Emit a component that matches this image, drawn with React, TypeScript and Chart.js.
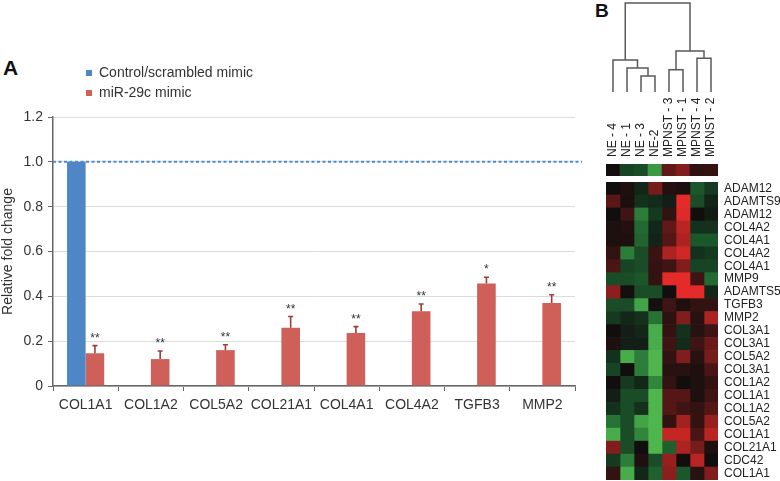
import React, { useEffect, useRef } from "react";
import { Chart, registerables } from "chart.js";
Chart.register(...registerables);

const FONT = "'Liberation Sans', Arial, Helvetica, sans-serif";
Chart.defaults.font.family = FONT;

// ---------- Panel A data ----------
const genes = ["COL1A1", "COL1A2", "COL5A2", "COL21A1", "COL4A1", "COL4A2", "TGFB3", "MMP2"];
const controlLabel = "Control/scrambled mimic";
const mimicLabel = "miR-29c mimic";
const controlValues = [1, null, null, null, null, null, null, null];
const mimicValues = [0.146, 0.12, 0.16, 0.26, 0.236, 0.333, 0.457, 0.37];
const mimicErrors = [0.034, 0.036, 0.024, 0.05, 0.029, 0.033, 0.028, 0.037];
const significance = ["**", "**", "**", "**", "**", "**", "*", "**"];
const yMax = 1.2;
const yStep = 0.2;
const referenceLevel = 1;

// ---------- Panel B data ----------
const samples = ["NE - 4", "NE - 1", "NE - 3", "NE-2", "MPNST - 3", "MPNST - 1", "MPNST - 4", "MPNST - 2"];
const groupRow = [0.0, -0.25, -0.3, -0.7, 0.35, 0.5, 0.12, 0.15];
const heatGenes = [
  "ADAM12", "ADAMTS9", "ADAM12", "COL4A2", "COL4A1", "COL4A2", "COL4A1", "MMP9", "ADAMTS5", "TGFB3",
  "MMP2", "COL3A1", "COL3A1", "COL5A2", "COL3A1", "COL1A2", "COL1A1", "COL1A2", "COL5A2", "COL1A1",
  "COL21A1", "CDC42", "COL1A1",
];
const heatValues = [
  [0.0, 0.05, -0.1, 0.45, 0.08, 0.04, -0.35, -0.2],
  [0.32, 0.04, -0.15, -0.12, -0.05, 0.95, -0.3, -0.08],
  [0.0, 0.2, -0.55, -0.2, 0.15, 0.92, 0.0, -0.04],
  [0.05, 0.08, -0.45, -0.1, 0.35, 0.75, -0.15, -0.15],
  [0.05, 0.06, -0.42, -0.08, 0.3, 0.7, -0.35, -0.35],
  [0.15, -0.55, -0.3, 0.18, 0.7, 0.85, -0.15, -0.2],
  [0.25, -0.25, -0.3, 0.15, 0.2, 0.5, -0.25, -0.25],
  [-0.3, -0.3, -0.35, 0.15, 0.95, 0.95, 0.2, -0.45],
  [0.55, 0.02, -0.3, -0.3, 0.0, 0.95, 0.95, -0.1],
  [-0.3, -0.3, -0.75, 0.02, 0.2, 0.05, 0.15, 0.15],
  [-0.2, -0.1, -0.15, -0.5, 0.12, 0.5, 0.1, 0.7],
  [0.0, -0.05, -0.1, -0.8, 0.15, -0.15, 0.1, 0.2],
  [0.05, -0.05, -0.05, -0.8, 0.2, -0.12, 0.2, 0.4],
  [-0.15, -0.8, -0.55, -0.85, 0.15, 0.5, 0.1, 0.45],
  [-0.25, 0.0, -0.55, -0.85, 0.1, 0.1, 0.05, 0.25],
  [0.0, -0.2, -0.1, -0.6, 0.15, 0.0, 0.05, 0.15],
  [-0.05, -0.3, -0.3, -0.85, 0.3, 0.3, 0.05, 0.2],
  [-0.15, -0.3, -0.15, -0.85, 0.3, 0.2, 0.15, 0.3],
  [-0.5, -0.3, -0.75, -0.85, 0.15, 0.65, 0.15, 0.6],
  [-0.8, -0.3, -0.6, -0.85, 0.8, 0.8, 0.25, 0.75],
  [0.5, -0.3, 0.0, -0.85, -0.4, 0.7, 0.45, 0.05],
  [-0.2, -0.55, 0.05, -0.3, 0.6, 0.0, 0.75, 0.0],
  [0.15, -0.8, -0.1, -0.4, 0.55, -0.35, 0.1, 0.5],
];
// dendrogram merges: [childA, childB, height]; leaves 0..7, clusters 8..
const merges = [
  [2, 3, 0.18],
  [1, 8, 0.27],
  [0, 9, 0.36],
  [4, 5, 0.25],
  [6, 7, 0.38],
  [11, 12, 0.46],
  [10, 13, 1.0],
];

function heatColor(v: number): string {
  if (v >= 0) {
    const r = Math.round(18 + 222 * v);
    const g = Math.round(14 + 30 * v);
    const b = Math.round(14 + 28 * v);
    return `rgb(${r},${g},${b})`;
  }
  const a = -v;
  const r = Math.round(18 + 85 * a * a);
  const g = Math.round(20 + 190 * a);
  const b = Math.round(18 + 70 * a);
  return `rgb(${r},${g},${b})`;
}

const BLUE = "#4f86c6";
const RED = "#ce5f59";

const annotatePlugin = {
  id: "annotateA",
  afterDatasetsDraw(chart: any) {
    const ctx = chart.ctx;
    const y = chart.scales.y;
    const area = chart.chartArea;
    ctx.save();
    const yr = y.getPixelForValue(referenceLevel);
    ctx.strokeStyle = "#4a8bd6";
    ctx.lineWidth = 2;
    ctx.setLineDash([3, 2.5]);
    ctx.beginPath();
    ctx.moveTo(area.left, yr);
    ctx.lineTo(area.right + 7, yr);
    ctx.stroke();
    ctx.setLineDash([]);
    const meta = chart.getDatasetMeta(1);
    meta.data.forEach((bar: any, i: number) => {
      const top = y.getPixelForValue(mimicValues[i] + mimicErrors[i]);
      ctx.strokeStyle = "#9e3c38";
      ctx.lineWidth = 1.6;
      ctx.beginPath();
      ctx.moveTo(bar.x, bar.y);
      ctx.lineTo(bar.x, top);
      ctx.moveTo(bar.x - 2.5, top);
      ctx.lineTo(bar.x + 2.5, top);
      ctx.stroke();
      ctx.fillStyle = "#333";
      ctx.font = `12px ${FONT}`;
      ctx.textAlign = "center";
      ctx.textBaseline = "alphabetic";
      ctx.fillText(significance[i], bar.x, top - 4);
    });
    ctx.restore();
  },
};

function useChart(ref: React.RefObject<HTMLCanvasElement>, makeConfig: () => any) {
  useEffect(() => {
    if (!ref.current) return;
    const chart = new Chart(ref.current, makeConfig());
    return () => chart.destroy();
  }, []);
}

function Canvas({ r, left, top, width, height }: any) {
  return (
    <canvas
      ref={r}
      width={width}
      height={height}
      style={{ position: "absolute", left, top, width, height, display: "block" }}
    />
  );
}

export default function App() {
  const aRef = useRef<HTMLCanvasElement>(null);
  const legRef = useRef<HTMLCanvasElement>(null);
  const dendRef = useRef<HTMLCanvasElement>(null);
  const barRef = useRef<HTMLCanvasElement>(null);
  const heatRef = useRef<HTMLCanvasElement>(null);

  useChart(aRef, () => ({
    type: "bar",
    data: {
      labels: genes,
      datasets: [
        { label: controlLabel, data: controlValues, backgroundColor: BLUE },
        { label: mimicLabel, data: mimicValues, backgroundColor: RED },
      ],
    },
    options: {
      animation: false,
      responsive: false,
      layout: { padding: { left: 0, top: 117, right: 15, bottom: 0 } },
      datasets: { bar: { categoryPercentage: 0.57, barPercentage: 1 } },
      plugins: { legend: { display: false }, tooltip: { enabled: false } },
      scales: {
        x: {
          grid: { display: true, drawOnChartArea: false, drawTicks: true, tickLength: 5, tickColor: "#666", offset: true },
          border: { color: "#666", width: 1.5 },
          ticks: { color: "#333", font: { size: 14 }, padding: 5.5, maxRotation: 0, autoSkip: false },
          afterFit: (s: any) => { s.height = 95; },
        },
        y: {
          min: 0,
          max: yMax,
          ticks: { stepSize: yStep, color: "#333", font: { size: 14 }, padding: 5 },
          grid: { color: "#dcdcdc", tickColor: "#666", tickLength: 5 },
          border: { color: "#666", width: 1.5 },
          title: { display: true, text: "Relative fold change", color: "#333", font: { size: 14 }, padding: 0 },
          afterFit: (s: any) => { s.width = 53; },
        },
      },
    },
    plugins: [annotatePlugin],
  }));

  useChart(legRef, () => ({
    type: "bar",
    data: {
      labels: [],
      datasets: [
        { label: controlLabel, data: [], backgroundColor: BLUE },
        { label: mimicLabel, data: [], backgroundColor: RED },
      ],
    },
    options: {
      animation: false,
      responsive: false,
      layout: { padding: 0 },
      scales: { x: { display: false }, y: { display: false } },
      plugins: {
        tooltip: { enabled: false },
        legend: {
          display: true,
          position: "top",
          align: "start",
          labels: { boxWidth: 6, boxHeight: 6, padding: 6, color: "#333", font: { size: 14 } },
        },
      },
    },
  }));

  useChart(dendRef, () => {
    const nodeX: number[] = samples.map((_, i) => i);
    const nodeH: number[] = samples.map(() => 0);
    const datasets = merges.map(([a, b, h]) => {
      const xa = nodeX[a], xb = nodeX[b];
      nodeX.push((xa + xb) / 2);
      nodeH.push(h);
      return {
        data: [
          { x: xa, y: nodeH[a] },
          { x: xa, y: h },
          { x: xb, y: h },
          { x: xb, y: nodeH[b] },
        ],
        showLine: true,
        borderColor: "#5a5a5a",
        borderWidth: 1.5,
        pointRadius: 0,
        fill: false,
        clip: false,
      };
    });
    return {
      type: "scatter",
      data: { datasets },
      options: {
        animation: false,
        responsive: false,
        layout: { padding: { left: 13, right: 19, top: 3, bottom: 4 } },
        plugins: { legend: { display: false }, tooltip: { enabled: false } },
        scales: {
          x: { type: "linear", min: 0, max: samples.length - 1, display: false },
          y: { type: "linear", min: 0, max: 1, display: false },
        },
      },
    };
  });

  useChart(barRef, () => ({
    type: "bar",
    data: {
      labels: samples,
      datasets: [
        {
          data: samples.map(() => 1),
          backgroundColor: groupRow.map(heatColor),
          barPercentage: 1,
          categoryPercentage: 1,
          borderWidth: 0,
        },
      ],
    },
    options: {
      animation: false,
      responsive: false,
      layout: { padding: { left: 6, right: 12, top: 0, bottom: 1 } },
      plugins: { legend: { display: false }, tooltip: { enabled: false } },
      scales: {
        x: {
          position: "top",
          grid: { display: false, drawTicks: false },
          border: { display: false },
          ticks: { minRotation: 90, maxRotation: 90, autoSkip: false, padding: 7, labelOffset: 14.4, color: "#222", font: { size: 12 } },
          afterFit: (s: any) => { s.height = 71; s.paddingLeft = 0; s.paddingRight = 0; },
        },
        y: { display: false, min: 0, max: 1 },
      },
    },
  }));

  useChart(heatRef, () => ({
    type: "bar",
    data: {
      labels: heatGenes,
      datasets: samples.map((s, j) => ({
        label: s,
        data: heatGenes.map(() => 1),
        backgroundColor: heatValues.map((row) => heatColor(row[j])),
        barPercentage: 1,
        categoryPercentage: 1,
        borderWidth: 0,
      })),
    },
    options: {
      indexAxis: "y",
      animation: false,
      responsive: false,
      layout: { padding: { left: 6, right: 0, top: 2, bottom: 1 } },
      plugins: { legend: { display: false }, tooltip: { enabled: false } },
      scales: {
        x: { stacked: true, min: 0, max: samples.length, display: false },
        y: {
          stacked: true,
          position: "right",
          grid: { display: false, drawTicks: false },
          border: { display: false },
          ticks: { autoSkip: false, padding: 6, color: "#222", font: { size: 12 } },
          afterFit: (s: any) => { s.width = 62; s.paddingTop = 0; s.paddingBottom = 0; },
        },
      },
    },
  }));

  return (
    <div style={{ position: "absolute", left: 0, top: 0, width: 780, height: 481, background: "#fff", overflow: "hidden", fontFamily: FONT }}>
      <div style={{ position: "absolute", left: 3, top: 57, fontSize: 21, lineHeight: "21px", fontWeight: "bold", color: "#111" }}>A</div>
      <div style={{ position: "absolute", left: 595, top: 1, fontSize: 19, lineHeight: "19px", fontWeight: "bold", color: "#111" }}>B</div>
      <Canvas r={aRef} left={0} top={0} width={590} height={481} />
      <Canvas r={legRef} left={80} top={60} width={200} height={120} />
      <Canvas r={dendRef} left={600} top={0} width={130} height={96} />
      <Canvas r={barRef} left={600} top={93} width={130} height={84} />
      <Canvas r={heatRef} left={600} top={180} width={180} height={301} />
    </div>
  );
}
